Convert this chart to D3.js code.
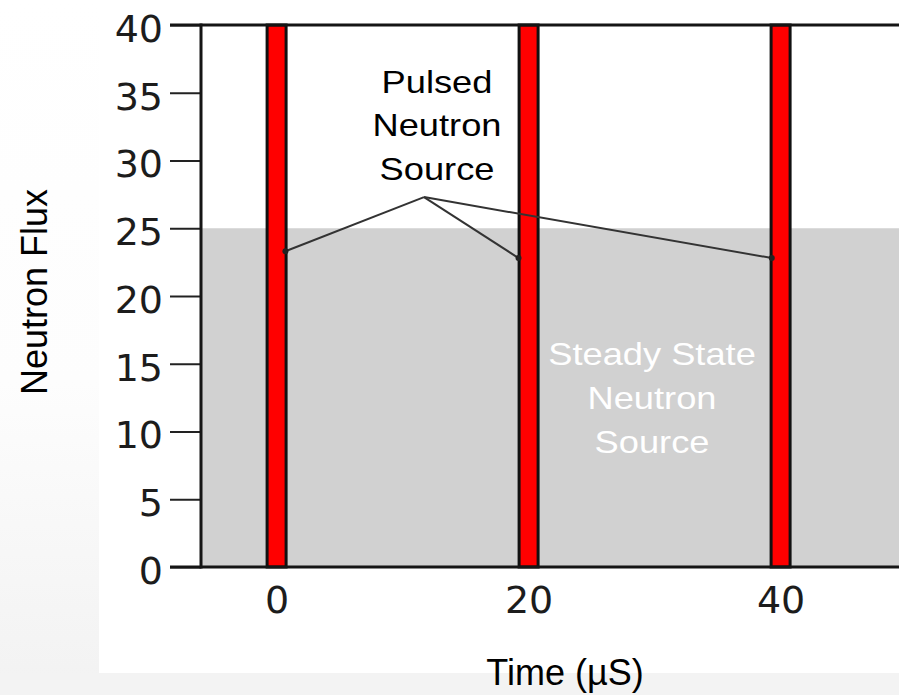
<!DOCTYPE html>
<html>
<head>
<meta charset="utf-8">
<script src="https://cdn.jsdelivr.net/npm/d3@7"></script>
<style>
  html, body { margin: 0; padding: 0; background: #f4f4f4; }
  svg { display: block; }
</style>
</head>
<body>
<svg id="chart" width="899" height="695"></svg>
<script>
// ---- data ----
const yTicks = [0, 5, 10, 15, 20, 25, 30, 35, 40];
const xTicks = [0, 20, 40];
const pulseTimes = [0, 20, 40];          // pulsed source firing times (µs)
const pulseFlux = 40;                    // pulse reaches top of scale
const steadyFlux = 25;                   // steady state level
const pulsedLabel = ["Pulsed", "Neutron", "Source"];
const steadyLabel = ["Steady State", "Neutron", "Source"];
const calloutApex = { t: 11.7, f: 27.3 };
const calloutTargets = [
  { t: 0.7, f: 23.3 },
  { t: 19.2, f: 22.8 },
  { t: 39.3, f: 22.8 }
];
const xTitle = "Time (µS)";
const yTitle = "Neutron Flux";

(function () {
// ---- layout ----
const svg = d3.select("#chart");
const W = 899, H = 695;
const plotLeft = 201, plotTop = 25, plotBottom = 567;
const x = d3.scaleLinear().domain([-6, 50]).range([plotLeft, plotLeft + 56 * 12.6]);
const y = d3.scaleLinear().domain([0, 40]).range([plotBottom, plotTop]);

// background
const defs = svg.append("defs");
const g1 = defs.append("linearGradient").attr("id", "bg").attr("x1", 0).attr("y1", 0).attr("x2", 0).attr("y2", 1);
g1.append("stop").attr("offset", "0%").attr("stop-color", "#ffffff");
g1.append("stop").attr("offset", "55%").attr("stop-color", "#fdfdfd");
g1.append("stop").attr("offset", "100%").attr("stop-color", "#f2f2f2");
svg.append("rect").attr("width", W).attr("height", H).attr("fill", "url(#bg)");
svg.append("rect").attr("x", 0).attr("y", 673).attr("width", W).attr("height", H - 673).attr("fill", "#f3f3f3");
svg.append("rect").attr("x", 99).attr("y", 0).attr("width", W - 99).attr("height", 673).attr("fill", "#ffffff");

// steady state region
svg.append("rect")
  .attr("x", plotLeft).attr("y", y(steadyFlux))
  .attr("width", W - plotLeft).attr("height", y(0) - y(steadyFlux))
  .attr("fill", "#d1d1d1");

// pulses
const pulseW = 19;
svg.selectAll("rect.pulse").data(pulseTimes).enter().append("rect")
  .attr("class", "pulse")
  .attr("x", d => x(d) - pulseW / 2)
  .attr("y", y(pulseFlux))
  .attr("width", pulseW)
  .attr("height", y(0) - y(pulseFlux))
  .attr("fill", "#ff0000")
  .attr("stroke", "#111")
  .attr("stroke-width", 3);

// y axis
const yAxis = svg.append("g").attr("transform", `translate(${plotLeft},0)`)
  .call(d3.axisLeft(y).tickValues(yTicks).tickSize(31).tickPadding(7));
yAxis.select(".domain").remove();
yAxis.selectAll(".tick line").attr("stroke", "#222").attr("stroke-width", 2);
yAxis.selectAll(".tick text")
  .attr("font-family", "DejaVu Sans, sans-serif")
  .attr("font-size", 38)
  .attr("fill", "#1c1c1c")
  .attr("dy", "0.43em");

// x axis
const xAxis = svg.append("g").attr("transform", `translate(0,${plotBottom})`)
  .call(d3.axisBottom(x).tickValues(xTicks).tickSize(0).tickPadding(19));
xAxis.select(".domain").remove();
xAxis.selectAll(".tick text")
  .attr("font-family", "DejaVu Sans, sans-serif")
  .attr("font-size", 38)
  .attr("fill", "#1c1c1c");

// frame
const frame = svg.append("g").attr("stroke", "#151515").attr("stroke-width", 3).attr("fill", "none");
frame.append("line").attr("x1", plotLeft - 31).attr("x2", W).attr("y1", y(40)).attr("y2", y(40));
frame.append("line").attr("x1", plotLeft - 31).attr("x2", W).attr("y1", y(0)).attr("y2", y(0));
frame.append("line").attr("x1", plotLeft).attr("x2", plotLeft).attr("y1", y(40) - 1.5).attr("y2", y(0) + 1.5);

// callout lines
const call = svg.append("g");
call.selectAll("line").data(calloutTargets).enter().append("line")
  .attr("x1", x(calloutApex.t)).attr("y1", y(calloutApex.f))
  .attr("x2", d => x(d.t)).attr("y2", d => y(d.f))
  .attr("stroke", "#333").attr("stroke-width", 2);
call.selectAll("circle").data(calloutTargets).enter().append("circle")
  .attr("cx", d => x(d.t)).attr("cy", d => y(d.f)).attr("r", 3)
  .attr("fill", "#222");

// labels (horizontally widened Arial-like text)
function block(lines, cx, y0, step, color) {
  const g = svg.append("g").attr("transform", `translate(${cx},0) scale(1.17,1)`);
  g.selectAll("text").data(lines).enter().append("text")
    .attr("x", 0).attr("y", (d, i) => y0 + i * step)
    .attr("text-anchor", "middle")
    .attr("font-family", "Liberation Sans, Arial, sans-serif")
    .attr("font-size", 31)
    .attr("fill", color)
    .text(d => d);
}
block(pulsedLabel, 437, 93, 43.5, "#000");
block(steadyLabel, 652, 365, 44, "#ffffff");

// axis titles
svg.append("text")
  .attr("transform", `translate(47,292) rotate(-90)`)
  .attr("text-anchor", "middle")
  .attr("font-family", "Liberation Sans, Arial, sans-serif")
  .attr("font-size", 36)
  .attr("fill", "#000")
  .text(yTitle);
svg.append("text")
  .attr("x", 565).attr("y", 685)
  .attr("text-anchor", "middle")
  .attr("font-family", "Liberation Sans, Arial, sans-serif")
  .attr("font-size", 36)
  .attr("fill", "#000")
  .text(xTitle);
})();
</script>
</body>
</html>
